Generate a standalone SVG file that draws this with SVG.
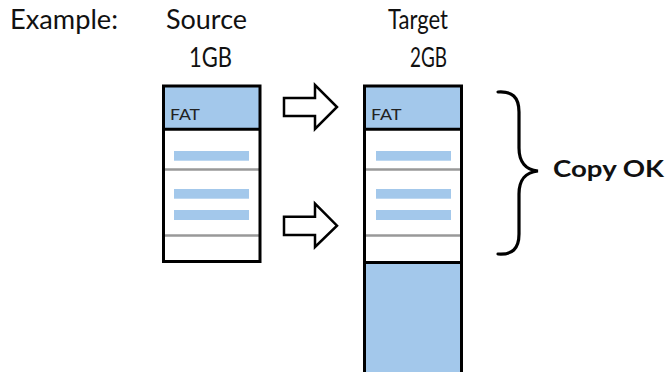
<svg xmlns="http://www.w3.org/2000/svg" width="665" height="372" viewBox="0 0 665 372">
<style>
.lbl{font-family:Lato,"Noto Sans","Liberation Sans",sans-serif;font-size:26px;fill:#111}
.fat{font-family:Lato,"Noto Sans","Liberation Sans",sans-serif;font-size:16px;fill:#222}
.ok{font-family:Lato,"Noto Sans","Liberation Sans",sans-serif;font-size:22px;font-weight:bold;fill:#111}
.blue{fill:#A3C8EB}
.box{fill:none;stroke:#000;stroke-width:3}
.sep{stroke:#000;stroke-width:3}
.gray{stroke:#999;stroke-width:2.4}
.arrow{fill:#fff;stroke:#000;stroke-width:2.5;stroke-linejoin:miter}
.brace{fill:none;stroke:#000;stroke-width:3.2;stroke-linecap:round}
</style>
<rect width="665" height="372" fill="#fff"/>
<g id="labels">
<text class="lbl" x="10" y="28.5" textLength="108" lengthAdjust="spacingAndGlyphs">Example:</text>
<text class="lbl" x="166" y="28.5" textLength="81" lengthAdjust="spacingAndGlyphs">Source</text>
<text class="lbl" x="189" y="66.5" textLength="43" lengthAdjust="spacingAndGlyphs">1GB</text>
<text class="lbl" x="388" y="28.5" textLength="60" lengthAdjust="spacingAndGlyphs">Target</text>
<text class="lbl" x="410" y="66.5" textLength="37" lengthAdjust="spacingAndGlyphs">2GB</text>
</g>
<g id="source">
<rect class="blue" x="163.5" y="86" width="96.5" height="43.2"/>
<rect class="blue" x="174" y="151" width="75" height="9.7"/>
<rect class="blue" x="174" y="189" width="75" height="9.7"/>
<rect class="blue" x="174" y="210" width="75" height="10"/>
<line class="gray" x1="163.5" y1="169.5" x2="260" y2="169.5"/>
<line class="gray" x1="163.5" y1="235.5" x2="260" y2="235.5"/>
<line class="sep" x1="163.5" y1="129.2" x2="260" y2="129.2"/>
<rect class="box" x="163.5" y="86" width="96.5" height="175.5"/>
<text class="fat" x="170" y="120" textLength="30" lengthAdjust="spacingAndGlyphs">FAT</text>
</g>
<g id="target">
<rect class="blue" x="364.5" y="86" width="97" height="43.2"/>
<rect class="blue" x="364.5" y="262.5" width="97" height="112"/>
<rect class="blue" x="376" y="151" width="75" height="9.7"/>
<rect class="blue" x="376" y="189" width="75" height="9.7"/>
<rect class="blue" x="376" y="210" width="75" height="10"/>
<line class="gray" x1="364.5" y1="169.5" x2="461.5" y2="169.5"/>
<line class="gray" x1="364.5" y1="235.5" x2="461.5" y2="235.5"/>
<line class="sep" x1="364.5" y1="129.2" x2="461.5" y2="129.2"/>
<line class="sep" x1="364.5" y1="262.5" x2="461.5" y2="262.5"/>
<rect class="box" x="364.5" y="86" width="97" height="290"/>
<text class="fat" x="371" y="120" textLength="30.5" lengthAdjust="spacingAndGlyphs">FAT</text>
</g>
<g id="connectors">
<polygon class="arrow" points="284,98 315,98 315,85 337,107 315,129 315,116 284,116"/>
<polygon class="arrow" points="284,216.7 315,216.7 315,203.5 337,225.7 315,247 315,235 284,235"/>
</g>
<g id="copy-ok">
<path class="brace" d="M498,92 C512,91 519,97 519,112 L519,148 C519,162 526,170 538,171 C526,172 519,180 519,194 L519,234 C519,249 512,255 498,254"/>
<text class="ok" x="553" y="177" textLength="111" lengthAdjust="spacingAndGlyphs">Copy OK</text>
</g>
</svg>
